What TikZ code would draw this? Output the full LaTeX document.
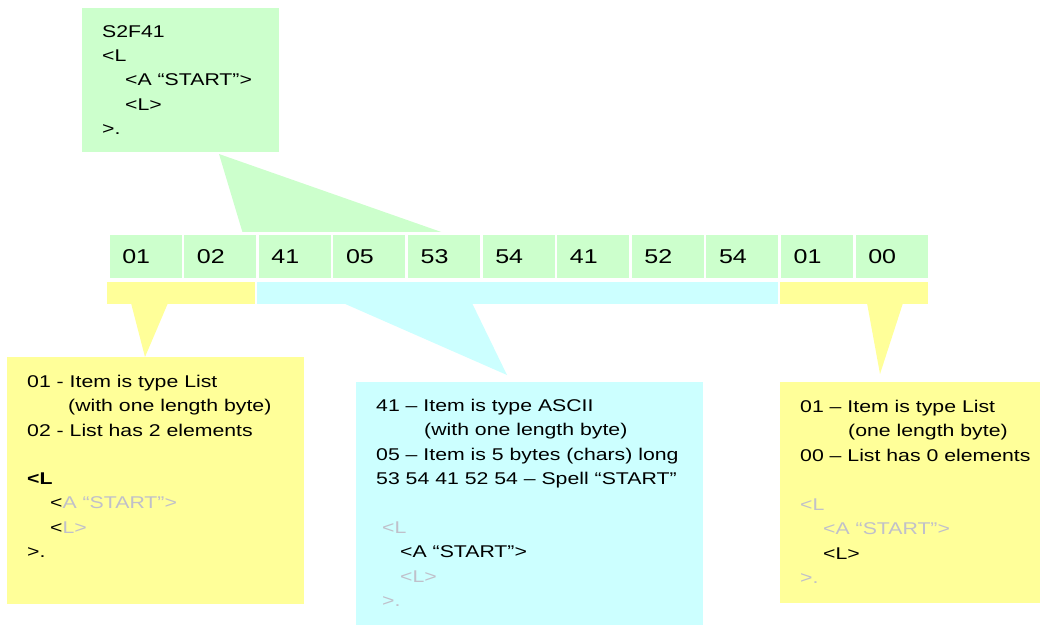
\documentclass[tikz,border=0pt]{standalone}
\usepackage{fontspec}
\setmainfont[FakeStretch=1.25]{Liberation Sans}
\definecolor{boxgreen}{RGB}{204,255,204}
\definecolor{boxyellow}{RGB}{255,255,153}
\definecolor{boxcyan}{RGB}{204,255,255}
\definecolor{faded}{RGB}{192,192,202}
\tikzset{
  txt/.style={anchor=base west, inner sep=0pt, font=\fontsize{17}{24}\selectfont},
  byte/.style={anchor=north west, fill=boxgreen, draw=white, line width=2.5pt,
    minimum height=46pt, text width=46.6pt, inner xsep=14pt, align=left,
    font=\fontsize{20}{24}\selectfont}
}
\begin{document}
\begin{tikzpicture}[x=1pt,y=-1pt]
\useasboundingbox (0,0) rectangle (1040,625);

% callout bodies and wedges
\fill[boxgreen] (82,8) rectangle (279,152);
\fill[boxgreen] (219,154) -- (243,234) -- (447,234) -- cycle;
\fill[boxyellow] (107,282) rectangle (255,304);
\fill[boxcyan] (257,282) rectangle (778,304);
\fill[boxyellow] (780,282) rectangle (928,304);
\fill[boxyellow] (131,303) -- (168,303) -- (145,357) -- cycle;
\fill[boxcyan] (343,303) -- (472,303) -- (507,375) -- cycle;
\fill[boxyellow] (867,303) -- (903,303) -- (880,374) -- cycle;
\fill[boxyellow] (7,357) rectangle (304,604);
\fill[boxcyan] (356,382) rectangle (703,625);
\fill[boxyellow] (780,382) rectangle (1040,603);

% message bytes
\node[byte] (b1) at (107,232) {01};
\node[byte] (b2) at (181.6,232) {02};
\node[byte] (b3) at (256.2,232) {41};
\node[byte] (b4) at (330.8,232) {05};
\node[byte] (b5) at (405.4,232) {53};
\node[byte] (b6) at (480,232) {54};
\node[byte] (b7) at (554.6,232) {41};
\node[byte] (b8) at (629.2,232) {52};
\node[byte] (b9) at (703.8,232) {54};
\node[byte] (b10) at (778.4,232) {01};
\node[byte] (b11) at (853,232) {00};

% SECS message
\node[txt] (g1) at (102,37) {S2F41};
\node[txt] (g2) at (102,61.4) {<L};
\node[txt] (g3) at (125,85.8) {<A “START”>};
\node[txt] (g4) at (125,110.2) {<L>};
\node[txt] (g5) at (102,134.6) {>.};

% list header
\node[txt] (l1) at (27,387) {01 - Item is type List};
\node[txt] (l2) at (68,411.5) {(with one length byte)};
\node[txt] (l3) at (27,436) {02 - List has 2 elements};
\node[txt] (l4) at (27,484) {\textbf{<L}};
\node[txt] (l5) at (50,508.5) {<\textcolor{faded}{A “START”>}};
\node[txt] (l6) at (50,533) {<\textcolor{faded}{L>}};
\node[txt] (l7) at (27,557.5) {>.};

% ascii item
\node[txt] (a1) at (376,411) {41 – Item is type ASCII};
\node[txt] (a2) at (424,435.5) {(with one length byte)};
\node[txt] (a3) at (376,460) {05 – Item is 5 bytes (chars) long};
\node[txt] (a4) at (376,484.5) {53 54 41 52 54 – Spell “START”};
\node[txt,faded] (a5) at (382,533) {<L};
\node[txt] (a6) at (400,557.5) {<A “START”>};
\node[txt,faded] (a7) at (400,582) {<L>};
\node[txt,faded] (a8) at (382,606.5) {>.};

% empty list
\node[txt] (e1) at (800,412) {01 – Item is type List};
\node[txt] (e2) at (848,436.5) {(one length byte)};
\node[txt] (e3) at (800,461) {00 – List has 0 elements};
\node[txt,faded] (e4) at (800,510) {<L};
\node[txt,faded] (e5) at (823,534.5) {<A “START”>};
\node[txt] (e6) at (823,559) {<L>};
\node[txt,faded] (e7) at (800,583.5) {>.};
\end{tikzpicture}
\end{document}
